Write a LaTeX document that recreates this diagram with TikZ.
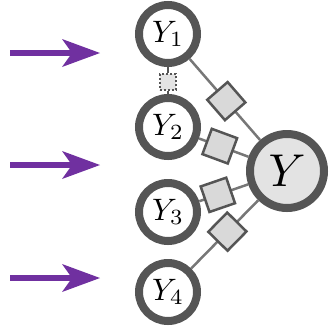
\documentclass[tikz,border=0pt]{standalone}
\usepackage{graphicx}
\usetikzlibrary{arrows.meta}
\definecolor{ringgray}{HTML}{555555}
\definecolor{linkgray}{HTML}{777777}
\definecolor{factorfill}{HTML}{D9D9D9}
\definecolor{targetfill}{HTML}{E3E3E3}
\definecolor{arrowpurple}{HTML}{7030A0}
\newcommand{\varlabel}[1]{\scalebox{3.1}{$#1$}}
\newcommand{\targetlabel}[1]{\scalebox{4.6}{$#1$}}
\tikzset{
  var/.style={circle, draw=ringgray, line width=8pt, fill=white,
    minimum size=58pt, inner sep=0pt},
  target/.style={circle, draw=ringgray, line width=8pt, fill=targetfill,
    minimum size=74pt, inner sep=0pt},
  factor/.style={rectangle, draw=ringgray, line width=2.5pt, fill=factorfill,
    minimum size=27pt, inner sep=0pt},
  smallfactor/.style={rectangle, draw=ringgray, line width=2pt, dotted,
    fill=targetfill, minimum size=16pt, inner sep=0pt},
  link/.style={draw=linkgray, line width=2.5pt},
  push/.style={draw=arrowpurple, line width=6.5pt,
    -{Stealth[length=38pt, width=28pt, inset=10pt, line width=0pt]}},
}
\begin{document}
\begin{tikzpicture}[x=1pt, y=-1pt]
  \useasboundingbox (0,0) rectangle (331,325);

  % variable nodes
  \node[var] (Y1) at (168,34)  {\varlabel{Y_1}};
  \node[var] (Y2) at (168,127) {\varlabel{Y_2}};
  \node[var] (Y3) at (168,212) {\varlabel{Y_3}};
  \node[var] (Y4) at (168,292) {\varlabel{Y_4}};
  \node[target] (Y) at (287,171) {\targetlabel{Y}};

  % weak pairwise factor between Y1 and Y2
  \node[smallfactor] (F12) at (168,82) {};
  \draw[link, line width=2pt, draw=ringgray] (Y1) -- (F12) -- (Y2);

  % factors linking each input to the target
  \draw[link] (Y1) -- node[factor, sloped, pos=0.52] (F1) {} (Y);
  \draw[link] (Y2) -- node[factor, sloped, pos=0.42] (F2) {} (Y);
  \draw[link] (Y3) -- node[factor, sloped, pos=0.38] (F3) {} (Y);
  \draw[link] (Y4) -- node[factor, sloped, pos=0.54] (F4) {} (Y);

  % incoming arrows
  \coordinate (A1s) at (10,53);
  \coordinate (A1e) at (100,53);
  \coordinate (A2s) at (10,165);
  \coordinate (A2e) at (100,165);
  \coordinate (A3s) at (10,278);
  \coordinate (A3e) at (100,278);
  \draw[push] (A1s) -- (A1e);
  \draw[push] (A2s) -- (A2e);
  \draw[push] (A3s) -- (A3e);
\end{tikzpicture}
\end{document}
